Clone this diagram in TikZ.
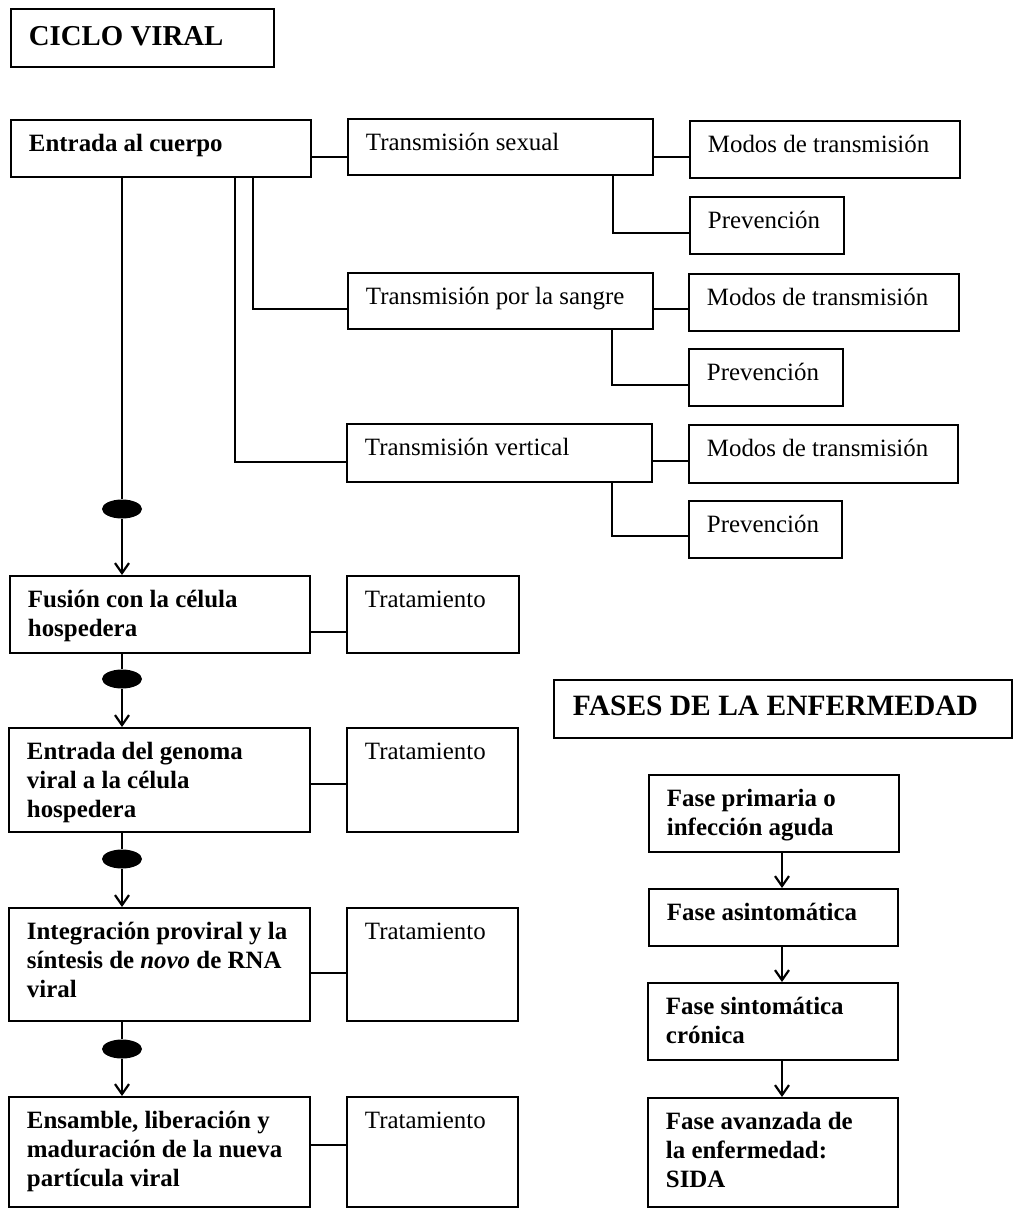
\documentclass[tikz,border=0pt]{standalone}
\usepackage{fontspec}
\setmainfont{Liberation Serif}
\usetikzlibrary{arrows.meta,shapes.geometric}
\newcommand\mkbox[7]{%
  \node[frame, minimum width={#5pt-#3pt}, minimum height={#6pt-#4pt}] (#2) at (#3,#4) {};
  \node[#1] (#2t) at ([xshift=18pt,yshift=-10pt]#2.north west) {\rule{0pt}{22pt}#7};
}
\tikzset{
  frame/.style={draw, rectangle, line width=1.9pt, anchor=north west, inner sep=0pt},
  txtb/.style={anchor=north west, inner sep=0pt, align=left, font=\fontsize{24.9}{29}\selectfont\bfseries},
  txtr/.style={anchor=north west, inner sep=0pt, align=left, font=\fontsize{24.9}{29}\selectfont},
  ttl/.style={anchor=north west, inner sep=0pt, align=left, font=\fontsize{29.5}{34}\selectfont\bfseries},
  ttlb/.style={anchor=north west, inner sep=0pt, align=left, font=\fontsize{28.8}{34}\selectfont\bfseries},
  dot/.style={ellipse, fill=black, minimum width=40pt, minimum height=19pt, inner sep=0pt},
  arr/.style={-{Straight Barb[length=10pt,width=14pt,line width=2.2pt]}}
}
\begin{document}
\begin{tikzpicture}[x=1pt,y=-1pt,line width=1.9pt]
\useasboundingbox (0,0) rectangle (1013,1209);
% titles
\node[frame, minimum width=263pt, minimum height=58pt] (ciclo) at (10,8) {};
\node[ttlb] (ciclot) at ([xshift=18pt,yshift=-15pt]ciclo.north west) {\rule{0pt}{22pt}CICLO VIRAL};
\node[frame, minimum width=458pt, minimum height=58pt] (fases) at (553,679) {};
\node[ttl] (fasest) at ([xshift=19pt,yshift=-14pt]fases.north west) {\rule{0pt}{22pt}FASES DE LA ENFERMEDAD};
% left column
\mkbox{txtb}{entrada}{10}{119}{310}{176}{Entrada al cuerpo}
\mkbox{txtb}{fusion}{9}{575}{309}{652}{Fusión con la célula\\hospedera}
\mkbox{txtb}{genoma}{8}{727}{309}{831}{Entrada del genoma\\viral a la célula\\hospedera}
\mkbox{txtb}{integ}{8}{907}{309}{1020}{Integración proviral y la\\síntesis de \textit{novo} de RNA\\viral}
\mkbox{txtb}{ensam}{8}{1096}{309}{1206}{Ensamble, liberación y\\maduración de la nueva\\partícula viral}
% transmission
\mkbox{txtr}{sexual}{347}{118}{652}{174}{Transmisión sexual}
\mkbox{txtr}{modosa}{689}{120}{959}{177}{Modos de transmisión}
\mkbox{txtr}{preva}{689}{196}{843}{253}{Prevención}
\mkbox{txtr}{sangre}{347}{272}{652}{328}{Transmisión por la sangre}
\mkbox{txtr}{modosb}{688}{273}{958}{330}{Modos de transmisión}
\mkbox{txtr}{prevb}{688}{348}{842}{405}{Prevención}
\mkbox{txtr}{vert}{346}{423}{651}{481}{Transmisión vertical}
\mkbox{txtr}{modosc}{688}{424}{957}{482}{Modos de transmisión}
\mkbox{txtr}{prevc}{688}{500}{841}{557}{Prevención}
% tratamiento
\mkbox{txtr}{trata}{346}{575}{518}{652}{Tratamiento}
\mkbox{txtr}{tratb}{346}{727}{517}{831}{Tratamiento}
\mkbox{txtr}{tratc}{346}{907}{517}{1020}{Tratamiento}
\mkbox{txtr}{tratd}{346}{1096}{517}{1206}{Tratamiento}
% fases
\mkbox{txtb}{fa}{648}{774}{898}{851}{Fase primaria o\\infección aguda}
\mkbox{txtb}{fb}{648}{888}{897}{945}{Fase asintomática}
\mkbox{txtb}{fc}{647}{982}{897}{1059}{Fase sintomática\\crónica}
\mkbox{txtb}{fd}{647}{1097}{897}{1206}{Fase avanzada de\\la enfermedad:\\SIDA}
% dots
\node[dot] (ea) at (122,509) {};
\node[dot] (eb) at (122,679) {};
\node[dot] (ec) at (122,859) {};
\node[dot] (ed) at (122,1049) {};
% main chain
\draw (entrada.south -| ea) -- (ea);
\draw[arr] (ea) -- (fusion.north -| ea);
\draw (fusion.south -| eb) -- (eb);
\draw[arr] (eb) -- (genoma.north -| eb);
\draw (genoma.south -| ec) -- (ec);
\draw[arr] (ec) -- (integ.north -| ec);
\draw (integ.south -| ed) -- (ed);
\draw[arr] (ed) -- (ensam.north -| ed);
% transmission connectors
\draw (entrada.east |- 0,157) -- (sexual.west |- 0,157);
\draw (entrada.south -| 253,0) |- (sangre.west |- 0,309);
\draw (entrada.south -| 235,0) |- (vert.west |- 0,462);
\draw (sexual.east |- 0,157) -- (modosa.west |- 0,157);
\draw (sexual.south -| 613,0) |- (preva.west |- 0,233);
\draw (sangre.east |- 0,309) -- (modosb.west |- 0,309);
\draw (sangre.south -| 612,0) |- (prevb.west |- 0,385);
\draw (vert.east |- 0,461) -- (modosc.west |- 0,461);
\draw (vert.south -| 612,0) |- (prevc.west |- 0,536);
% tratamiento connectors
\draw (fusion.east |- 0,632) -- (trata.west |- 0,632);
\draw (genoma.east |- 0,784) -- (tratb.west |- 0,784);
\draw (integ.east |- 0,973) -- (tratc.west |- 0,973);
\draw (ensam.east |- 0,1145) -- (tratd.west |- 0,1145);
% fases arrows
\draw[arr] (fa.south -| 782,0) -- (fb.north -| 782,0);
\draw[arr] (fb.south -| 782,0) -- (fc.north -| 782,0);
\draw[arr] (fc.south -| 782,0) -- (fd.north -| 782,0);
\end{tikzpicture}
\end{document}
